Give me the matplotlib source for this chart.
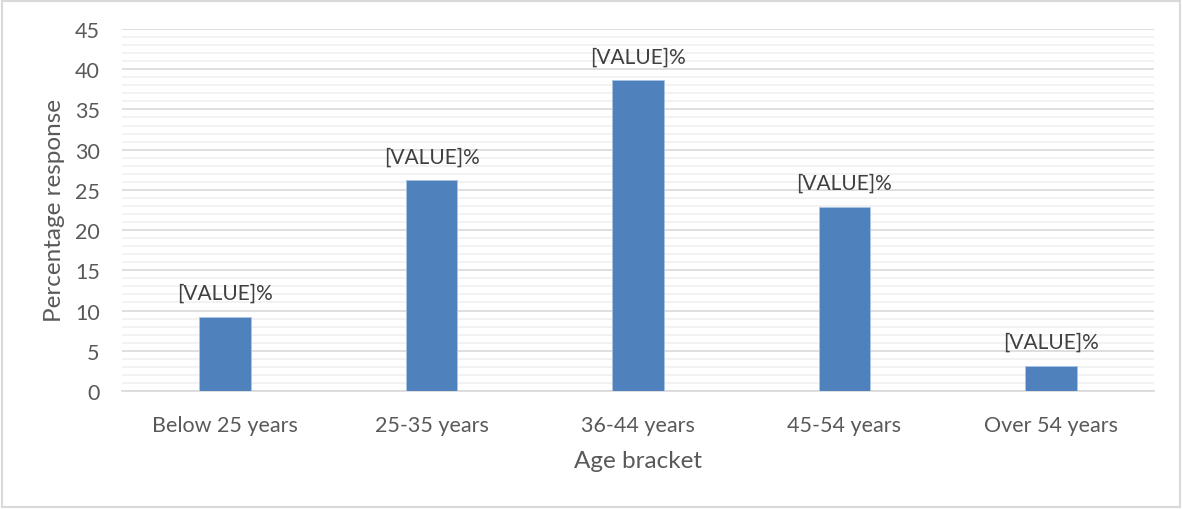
import matplotlib
matplotlib.use('Agg')
import matplotlib.pyplot as plt
from matplotlib.patches import Rectangle

bar_blue = '#4f81bd'
text_grey = '#595959'

age_brackets = ['Below 25 years', '25-35 years', '36-44 years', '45-54 years', 'Over 54 years']
responses = [9.2, 26.2, 38.6, 22.9, 3.1]
bar_labels = ['[VALUE]%'] * len(responses)

plt.rcParams['font.family'] = ['Lato', 'DejaVu Sans']

fig = plt.figure(figsize=(11.82, 5.10), dpi=100)
ax = fig.add_axes([0.1032, 0.2314, 0.8731, 0.7098])

# light border round the whole chart
fig.patches.append(Rectangle((0.002, 0.004), 0.996, 0.992, transform=fig.transFigure,
                             fill=False, edgecolor='#d9d9d9', linewidth=1.5))

x = range(len(age_brackets))
bars = ax.bar(x, responses, width=0.25, color=bar_blue, edgecolor='#a9c4e6',
              linewidth=0.6, zorder=3)

for rect, lab in zip(bars, bar_labels):
    ax.annotate(lab, (rect.get_x() + rect.get_width() / 2, rect.get_height()),
                xytext=(0, 10), textcoords='offset points', ha='center', va='bottom',
                fontsize=15, color='#404040')

ax.set_xlim(-0.5, len(age_brackets) - 0.5)
ax.set_ylim(0, 45)
ax.set_yticks(range(0, 46, 5))
ax.set_yticks(range(0, 46, 1), minor=True)
ax.grid(axis='y', which='major', color='#d9d9d9', linewidth=1.2, zorder=0)
ax.grid(axis='y', which='minor', color='#f0f0f0', linewidth=1.2, zorder=0)
ax.tick_params(axis='y', which='both', length=0, labelsize=15.5, labelcolor=text_grey, pad=16)
ax.tick_params(axis='x', length=0, labelsize=15.5, labelcolor=text_grey, pad=17)
ax.set_xticks(list(x))
ax.set_xticklabels(age_brackets)

for side in ['top', 'right', 'left']:
    ax.spines[side].set_visible(False)
ax.spines['bottom'].set_color('#d9d9d9')
ax.spines['bottom'].set_linewidth(1.2)

ax.set_xlabel('Age bracket', fontsize=17.5, color=text_grey, labelpad=11)
ax.set_ylabel('Percentage response', fontsize=17.5, color=text_grey, labelpad=7)

fig.savefig('out.png', dpi=100)
